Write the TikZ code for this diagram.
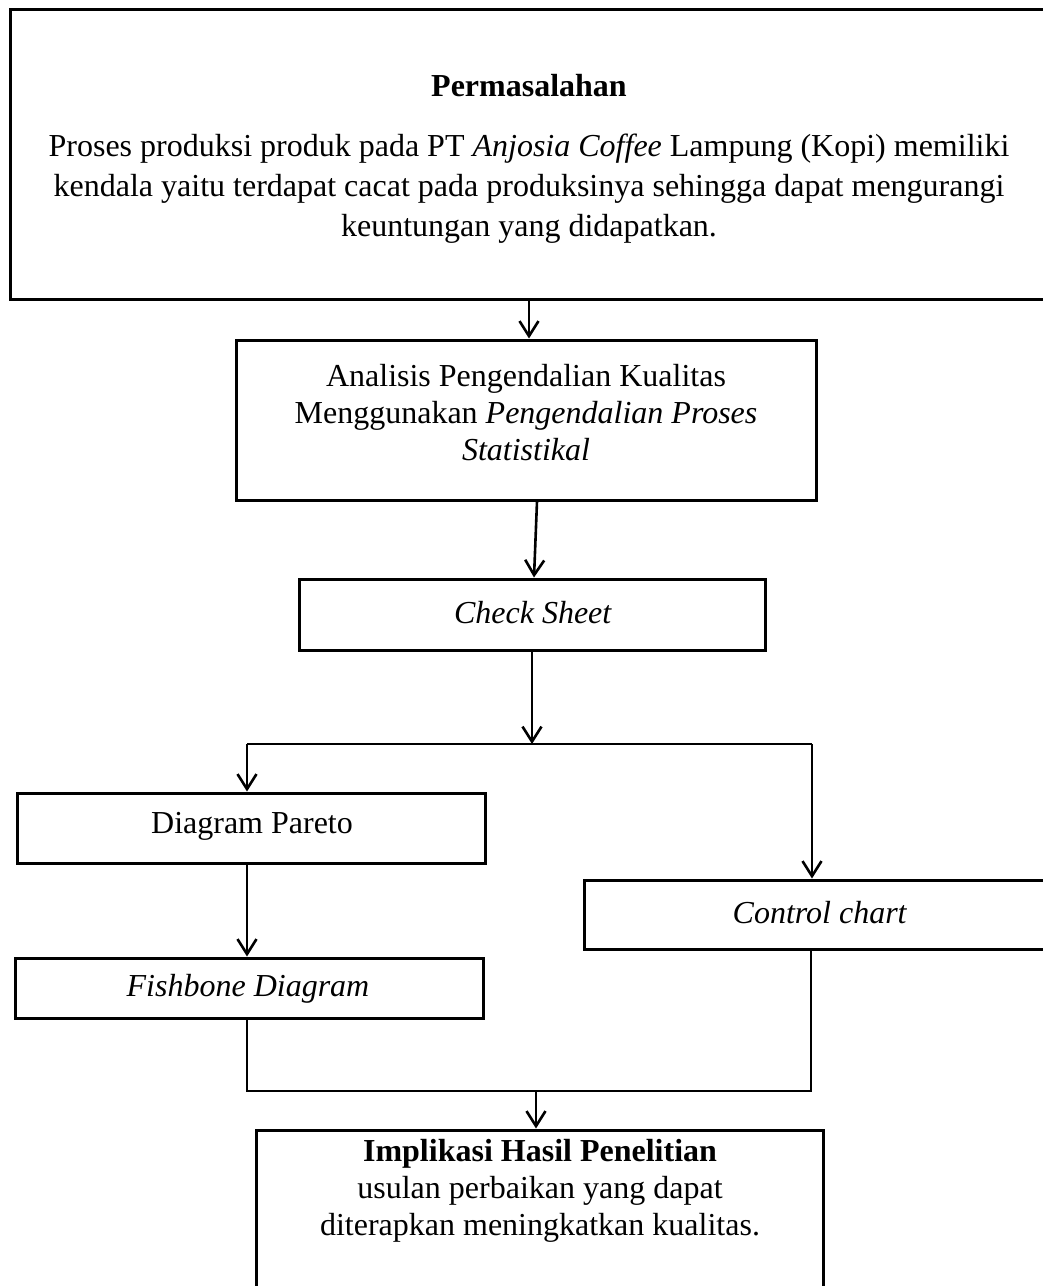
\documentclass[tikz,border=0pt]{standalone}
\usepackage{fontspec}
\setmainfont{Liberation Serif}
\usetikzlibrary{arrows.meta}
\begin{document}
\begin{tikzpicture}[x=0.5pt,y=-0.5pt,
  box/.style={draw=black,line width=1.5pt,rectangle,inner sep=0pt},
  txt/.style={align=center,inner sep=0pt,font=\fontsize{16pt}{18.5pt}\selectfont},
  conn/.style={line width=1.3pt,draw=black},
  arr/.style={conn,-{Straight Barb[length=7.5pt,width=9.5pt,line width=1.3pt]}}]
\useasboundingbox (0,0) rectangle (1043,1286);
\clip (0,0) rectangle (1043,1286);
% boxes
\node[box,minimum width=519pt,minimum height=145pt] (top) at (529,154) {};
\node[box,minimum width=290pt,minimum height=80pt] (ana) at (526,420) {};
\node[box,minimum width=233pt,minimum height=35.5pt] (chk) at (532,614.5) {};
\node[box,minimum width=234pt,minimum height=35pt] (par) at (251,828) {};
\node[box,minimum width=234pt,minimum height=30pt] (fish) at (249,988) {};
\node[box,minimum width=236pt,minimum height=34.5pt] (cc) at (820,914.5) {};
\node[box,minimum width=283.5pt,minimum height=90pt] (imp) at (539.5,1220) {};
% texts
\node[txt,font=\fontsize{16pt}{18.5pt}\selectfont\bfseries] (top-h) at (529,86) {Permasalahan};
\node[txt,font=\fontsize{16pt}{20pt}\selectfont] (top-t) at (529,189) {Proses produksi produk pada PT \textit{Anjosia Coffee} Lampung (Kopi) memiliki\\kendala yaitu terdapat cacat pada produksinya sehingga dapat mengurangi\\keuntungan yang didapatkan.};
\node[txt] (ana-t) at (526,413) {Analisis Pengendalian Kualitas\\Menggunakan \textit{Pengendalian Proses}\\\textit{Statistikal}};
\node[txt] (chk-t) at (533,613) {\textit{Check Sheet}};
\node[txt] (par-t) at (252,826) {Diagram Pareto};
\node[txt] (fish-t) at (248,989) {\textit{Fishbone Diagram}};
\node[txt] (cc-t) at (820,913) {\textit{Control chart}};
\node[txt] (imp-t) at (540,1191) {\textbf{Implikasi Hasil Penelitian}\\usulan perbaikan yang dapat\\diterapkan meningkatkan kualitas.};
% junction coordinates
\coordinate (j) at (532,744);
\coordinate (jl) at (247,744);
\coordinate (jr) at (812,744);
\coordinate (bl) at (247,1091);
\coordinate (br) at (811,1091);
\coordinate (bm) at (536,1091);
% connectors
\draw[arr] (top.south) -- (top.south |- ana.north);
\draw[arr] ([xshift=5.5pt]ana.south) -- ([xshift=1pt]chk.north);
\draw[arr] (chk.south) -- (j);
\draw[conn] (jl) -- (jr);
\draw[arr] (jl) -- (jl |- par.north);
\draw[arr] (jr) -- (jr |- cc.north);
\draw[arr] (jl |- par.south) -- (jl |- fish.north);
\draw[conn] (jl |- fish.south) -- (bl) -- (br) -- (br |- cc.south);
\draw[arr] (bm) -- (bm |- imp.north);
\end{tikzpicture}
\end{document}
